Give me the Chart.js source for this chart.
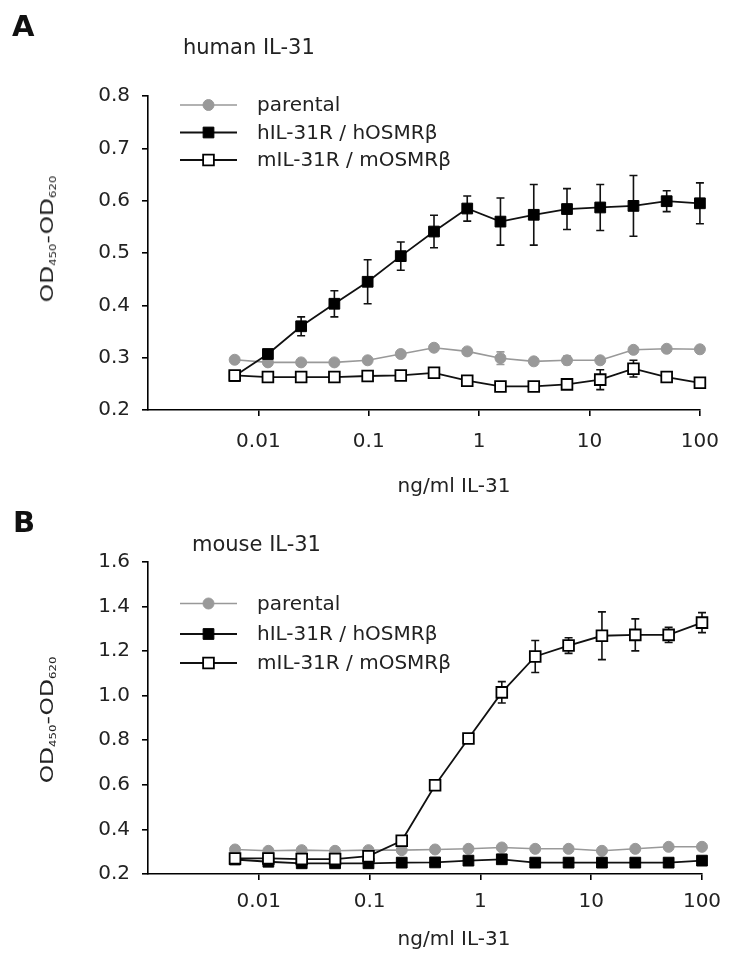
<!DOCTYPE html>
<html>
<head>
<meta charset="utf-8">
<script src="https://cdn.jsdelivr.net/npm/chart.js@4.4.0/dist/chart.umd.min.js"></script>
<style>
    html, body { margin: 0; padding: 0; background: #fff; }
    body { width: 733px; height: 961px; position: relative; overflow: hidden; font-family: "DejaVu Sans", sans-serif; color: #222; }
    canvas { position: absolute; left: 0; }
    #chartA { top: 0; }
    #chartB { top: 480px; }
    .lbl { position: absolute; white-space: nowrap; line-height: 1; }
    .panel { font-weight: bold; font-size: 29px; color: #111; }
    .sub { font-size: 21px; }
    .xt { font-size: 20px; transform: translateX(-50%); }
    .yt { font-size: 18px; transform: translate(-50%, -50%) rotate(-90deg) scaleX(1.3); }
    .yt sub { font-size: 0.5em; vertical-align: -0.35em; line-height: 0; }
</style>
</head>
<body>
<canvas id="chartA" width="733" height="480"></canvas>
<canvas id="chartB" width="733" height="481"></canvas>

<div class="lbl panel" style="left:12px; top:12px;">A</div>
<div class="lbl sub" style="left:183px; top:37px;">human IL-31</div>
<div class="lbl yt" style="left:47px; top:239px;">OD<sub>450</sub>-OD<sub>620</sub></div>
<div class="lbl xt" style="left:454px; top:475px;">ng/ml IL-31</div>

<div class="lbl panel" style="left:13px; top:508px;">B</div>
<div class="lbl sub" style="left:192px; top:534px;">mouse IL-31</div>
<div class="lbl yt" style="left:47px; top:720px;">OD<sub>450</sub>-OD<sub>620</sub></div>
<div class="lbl xt" style="left:454px; top:928px;">ng/ml IL-31</div>

<script>
// 浓度 (ng/ml)，1:2 稀释
const conc = [0.0061, 0.0122, 0.0244, 0.0488, 0.0977, 0.195, 0.39, 0.78, 1.56, 3.125, 6.25, 12.5, 25, 50, 100];
const xTicks = [0.01, 0.1, 1, 10, 100];
const seriesNames = ['parental', 'hIL-31R / hOSMRβ', 'mIL-31R / mOSMRβ'];

// A: human IL-31
const yTicksA = [0.2, 0.3, 0.4, 0.5, 0.6, 0.7, 0.8];
const humanParental    = [0.296, 0.291, 0.291, 0.291, 0.295, 0.307, 0.319, 0.312, 0.299, 0.293, 0.295, 0.295, 0.315, 0.317, 0.316];
const humanParentalErr = [0.003, 0.003, 0.003, 0.003, 0.004, 0.004, 0.004, 0.005, 0.012, 0.003, 0.008, 0.004, 0.005, 0.003, 0.003];
const humanH           = [0.265, 0.307, 0.360, 0.403, 0.445, 0.494, 0.541, 0.585, 0.560, 0.573, 0.584, 0.587, 0.590, 0.599, 0.595];
const humanHErr        = [0.003, 0.008, 0.018, 0.025, 0.042, 0.027, 0.031, 0.024, 0.045, 0.058, 0.039, 0.044, 0.058, 0.020, 0.039];
const humanM           = [0.266, 0.263, 0.263, 0.263, 0.265, 0.266, 0.271, 0.256, 0.245, 0.245, 0.249, 0.258, 0.279, 0.263, 0.252];
const humanMErr        = [0.003, 0.003, 0.003, 0.003, 0.003, 0.003, 0.003, 0.004, 0.004, 0.003, 0.007, 0.019, 0.016, 0.005, 0.003];

// B: mouse IL-31
const yTicksB = [0.2, 0.4, 0.6, 0.8, 1.0, 1.2, 1.4, 1.6];
const mouseParental    = [0.310, 0.304, 0.307, 0.304, 0.307, 0.307, 0.310, 0.313, 0.319, 0.313, 0.313, 0.304, 0.313, 0.322, 0.322];
const mouseParentalErr = [0.004, 0.004, 0.004, 0.004, 0.004, 0.004, 0.004, 0.004, 0.006, 0.004, 0.004, 0.004, 0.004, 0.004, 0.004];
const mouseH           = [0.265, 0.255, 0.248, 0.248, 0.248, 0.251, 0.252, 0.260, 0.266, 0.251, 0.251, 0.251, 0.251, 0.251, 0.260];
const mouseHErr        = [0.004, 0.004, 0.004, 0.004, 0.004, 0.004, 0.004, 0.004, 0.005, 0.004, 0.004, 0.004, 0.004, 0.004, 0.004];
const mouseM           = [0.270, 0.270, 0.267, 0.267, 0.280, 0.349, 0.598, 0.808, 1.015, 1.176, 1.225, 1.269, 1.273, 1.273, 1.328];
const mouseMErr        = [0.005, 0.005, 0.005, 0.005, 0.006, 0.008, 0.020, 0.015, 0.048, 0.072, 0.035, 0.107, 0.072, 0.034, 0.045];

const FONT = '"DejaVu Sans", sans-serif';

// 误差线
const errorBars = {
    id: 'errorBars',
    beforeDatasetsDraw(chart) {
        const ctx = chart.ctx;
        const xs = chart.scales.x, ys = chart.scales.y;
        chart.data.datasets.forEach(ds => {
            ctx.save();
            ctx.strokeStyle = ds.borderColor;
            ctx.lineWidth = 1.6;
            ds.data.forEach((p, i) => {
                const e = ds.errors[i];
                const px = xs.getPixelForValue(p.x);
                const top = ys.getPixelForValue(p.y + e);
                const bot = ys.getPixelForValue(p.y - e);
                ctx.beginPath();
                ctx.moveTo(px, top); ctx.lineTo(px, bot);
                ctx.moveTo(px - 4, top); ctx.lineTo(px + 4, top);
                ctx.moveTo(px - 4, bot); ctx.lineTo(px + 4, bot);
                ctx.stroke();
            });
            ctx.restore();
        });
    }
};

// 图例：线 + 标记 + 文字
const lineLegend = {
    id: 'lineLegend',
    afterDatasetsDraw(chart, args, opts) {
        const ctx = chart.ctx;
        chart.data.datasets.forEach((ds, i) => {
            const yy = opts.rows[i];
            ctx.save();
            ctx.strokeStyle = ds.borderColor;
            ctx.lineWidth = ds.borderWidth;
            ctx.beginPath();
            ctx.moveTo(opts.x0, yy);
            ctx.lineTo(opts.x1, yy);
            ctx.stroke();
            ctx.fillStyle = ds.pointBackgroundColor;
            ctx.strokeStyle = ds.pointBorderColor;
            ctx.lineWidth = ds.pointBorderWidth;
            Chart.helpers.drawPoint(ctx, {
                pointStyle: ds.pointStyle,
                radius: ds.pointRadius,
                borderWidth: ds.pointBorderWidth,
                rotation: 0
            }, (opts.x0 + opts.x1) / 2, yy);
            ctx.fillStyle = '#222';
            ctx.font = '20px ' + FONT;
            ctx.textBaseline = 'middle';
            ctx.textAlign = 'left';
            ctx.fillText(ds.label, opts.textX, yy + 1);
            ctx.restore();
        });
    }
};

function series(label, vals, errs, style) {
    return Object.assign({
        label: label,
        data: conc.map((x, i) => ({ x: x, y: vals[i] })),
        errors: errs,
        tension: 0,
        fill: false,
        clip: false
    }, style);
}

const styleParental = {
    borderColor: '#999999', borderWidth: 1.6,
    pointStyle: 'circle', pointRadius: 5.5,
    pointBackgroundColor: '#999999', pointBorderColor: '#999999', pointBorderWidth: 1,
    order: 3
};
const styleH = {
    borderColor: '#111111', borderWidth: 1.8,
    pointStyle: 'rect', pointRadius: 7.6,
    pointBackgroundColor: '#000000', pointBorderColor: '#000000', pointBorderWidth: 1,
    order: 2
};
const styleM = {
    borderColor: '#111111', borderWidth: 1.8,
    pointStyle: 'rect', pointRadius: 7.6,
    pointBackgroundColor: '#ffffff', pointBorderColor: '#000000', pointBorderWidth: 1.8,
    order: 1
};

function makeChart(id, datasets, yTicks, cfg) {
    const axisFont = { family: FONT, size: 20 };
    return new Chart(document.getElementById(id), {
        type: 'line',
        data: { datasets: datasets },
        plugins: [errorBars, lineLegend],
        options: {
            responsive: false,
            animation: false,
            layout: { padding: { top: cfg.top, right: 31, left: 0, bottom: 0 } },
            plugins: {
                legend: { display: false },
                tooltip: { enabled: false },
                lineLegend: { rows: cfg.rows, x0: 180, x1: 237, textX: 257 }
            },
            scales: {
                x: {
                    type: 'logarithmic',
                    min: 0.001,
                    max: 100,
                    afterBuildTicks: ax => { ax.ticks = xTicks.map(v => ({ value: v })); },
                    afterFit: s => { s.height = cfg.xHeight; },
                    border: { display: true, color: '#000', width: 1.6 },
                    grid: { display: true, drawOnChartArea: false, drawTicks: true, tickLength: 6, color: '#000', lineWidth: 1.6 },
                    ticks: { color: '#222', font: axisFont, padding: cfg.xPad, maxRotation: 0, autoSkip: false, callback: v => String(v) }
                },
                y: {
                    min: yTicks[0],
                    max: yTicks[yTicks.length - 1],
                    afterBuildTicks: ax => { ax.ticks = yTicks.map(v => ({ value: v })); },
                    afterFit: s => { s.width = 148; },
                    border: { display: true, color: '#000', width: 1.6 },
                    grid: { display: true, drawOnChartArea: false, drawTicks: true, tickLength: 6, color: '#000', lineWidth: 1.6 },
                    ticks: { color: '#222', font: axisFont, padding: 12, callback: v => v.toFixed(1) }
                }
            }
        }
    });
}

makeChart('chartA', [
    series(seriesNames[0], humanParental, humanParentalErr, styleParental),
    series(seriesNames[1], humanH, humanHErr, styleH),
    series(seriesNames[2], humanM, humanMErr, styleM)
], yTicksA, { top: 96, xHeight: 70, xPad: 14, rows: [105, 132.5, 160] });

makeChart('chartB', [
    series(seriesNames[0], mouseParental, mouseParentalErr, styleParental),
    series(seriesNames[1], mouseH, mouseHErr, styleH),
    series(seriesNames[2], mouseM, mouseMErr, styleM)
], yTicksB, { top: 82, xHeight: 87, xPad: 10, rows: [123.5, 154, 183] });
</script>
</body>
</html>
